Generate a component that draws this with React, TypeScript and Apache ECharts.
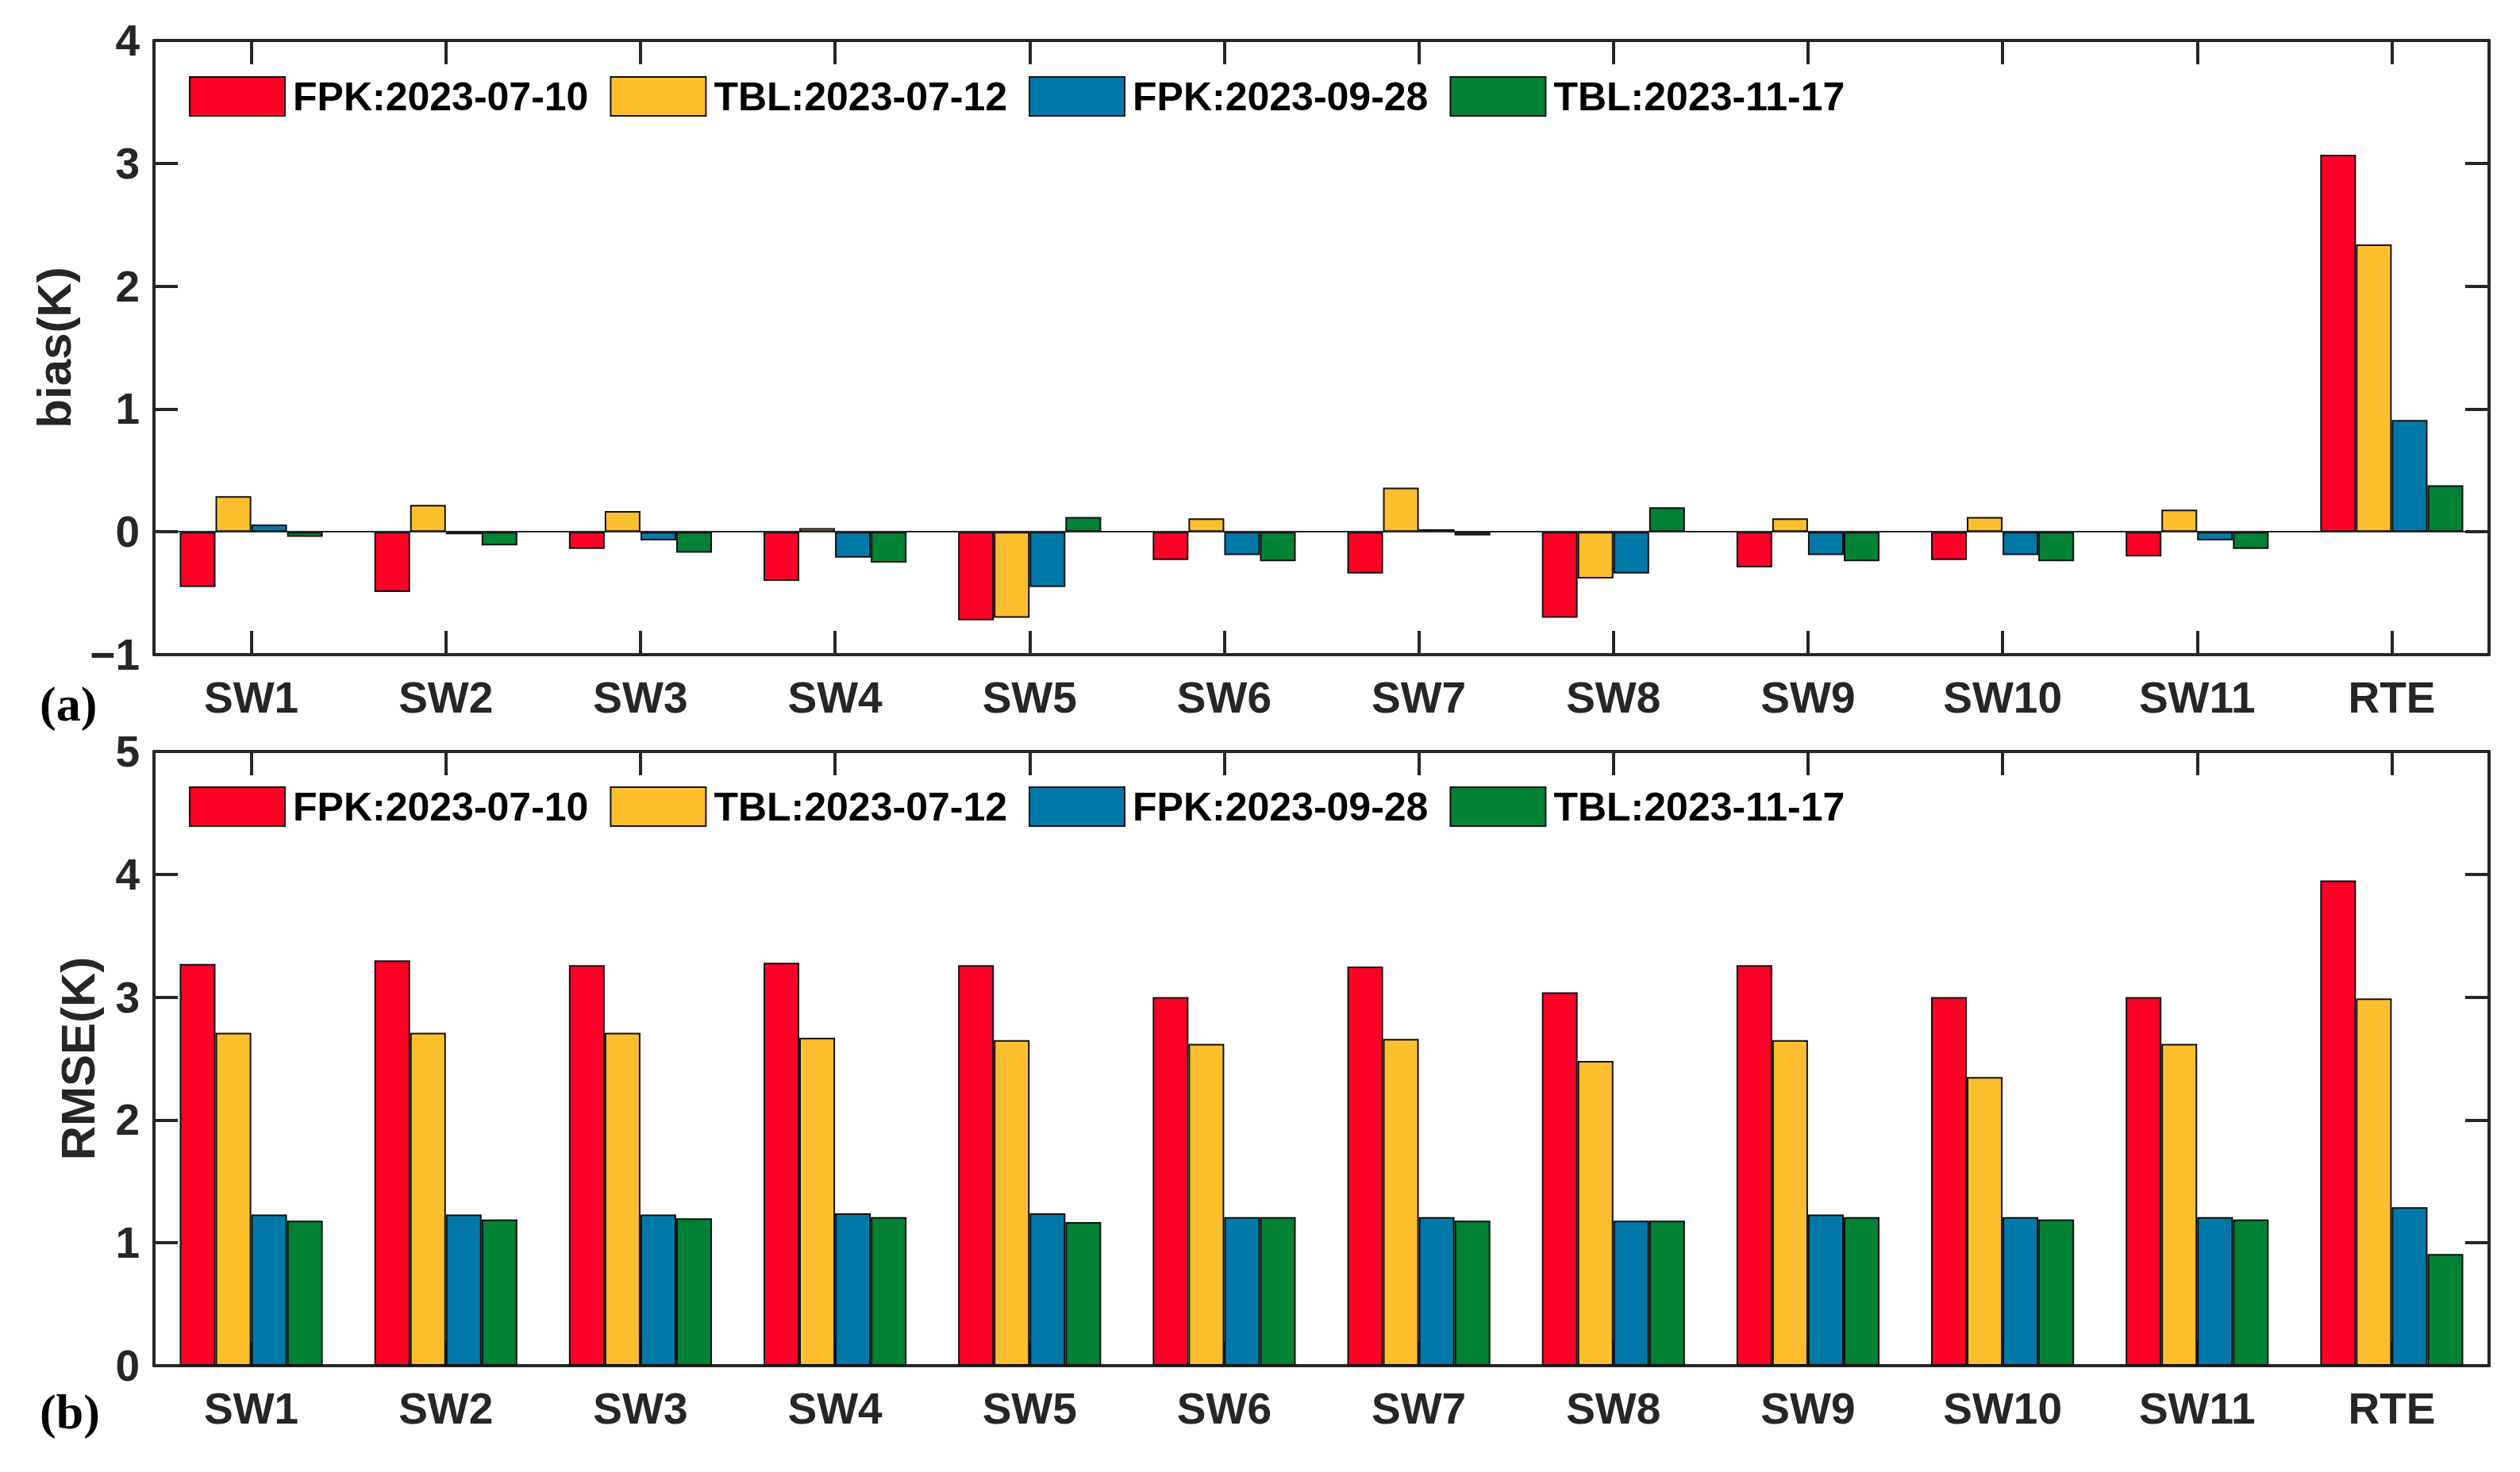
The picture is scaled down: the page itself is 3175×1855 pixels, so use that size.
import React, { useEffect, useRef } from "react";
import * as echarts from "echarts";

const categories = ["SW1", "SW2", "SW3", "SW4", "SW5", "SW6", "SW7", "SW8", "SW9", "SW10", "SW11", "RTE"];
const seriesNames = ["FPK:2023-07-10", "TBL:2023-07-12", "FPK:2023-09-28", "TBL:2023-11-17"];
const seriesColors = ["#FF0027", "#FDBF2E", "#0079A8", "#008134"];

const biasFPK0710 = [-0.45, -0.49, -0.14, -0.40, -0.72, -0.23, -0.34, -0.70, -0.29, -0.23, -0.20, 3.07];
const biasTBL0712 = [0.29, 0.22, 0.17, 0.03, -0.70, 0.11, 0.36, -0.38, 0.11, 0.12, 0.18, 2.34];
const biasFPK0928 = [0.06, -0.02, -0.07, -0.21, -0.45, -0.19, 0.02, -0.34, -0.19, -0.19, -0.07, 0.91];
const biasTBL1117 = [-0.04, -0.11, -0.17, -0.25, 0.12, -0.24, -0.03, 0.20, -0.24, -0.24, -0.14, 0.38];

const rmseFPK0710 = [3.27, 3.30, 3.26, 3.28, 3.26, 3.00, 3.25, 3.04, 3.26, 3.00, 3.00, 3.95];
const rmseTBL0712 = [2.71, 2.71, 2.71, 2.67, 2.65, 2.62, 2.66, 2.48, 2.65, 2.35, 2.62, 2.99];
const rmseFPK0928 = [1.23, 1.23, 1.23, 1.24, 1.24, 1.21, 1.21, 1.18, 1.23, 1.21, 1.21, 1.29];
const rmseTBL1117 = [1.18, 1.19, 1.20, 1.21, 1.17, 1.21, 1.18, 1.18, 1.21, 1.19, 1.19, 0.91];

const biasAxis = { min: -1, max: 4, interval: 1, name: "bias(K)" };
const rmseAxis = { min: 0, max: 5, interval: 1, name: "RMSE(K)" };
const panelLabels = ["(a)", "(b)"];

const FONT = "'Liberation Sans', Arial, Helvetica, sans-serif";
const AXIS_COLOR = "#262626";

export default function App() {
  const ref = useRef<HTMLDivElement>(null);

  useEffect(() => {
    document.body.style.margin = "0";
    const chart = echarts.init(ref.current!, null, { renderer: "svg" });

    const grids = [
      { left: 194, right: 39, top: 51, bottom: 1855 - 825 },
      { left: 194, right: 39, top: 947, bottom: 1855 - 1721 },
    ];

    const lineStyle = { color: AXIS_COLOR, width: 4 };

    const xAxes: any[] = [];
    const yAxes: any[] = [];
    [0, 1].forEach((g) => {
      xAxes.push({
        type: "category",
        gridIndex: g,
        data: categories,
        position: "bottom",
        boundaryGap: true,
        axisLine: { show: true, onZero: false, lineStyle },
        axisTick: { show: true, inside: true, alignWithLabel: true, length: 30, lineStyle: { color: AXIS_COLOR, width: 4 } },
        axisLabel: { show: true, margin: 26, fontSize: 55, fontWeight: "bold", color: AXIS_COLOR, fontFamily: FONT },
        splitLine: { show: false },
        z: 1,
      });
      xAxes.push({
        type: "category",
        gridIndex: g,
        data: categories,
        position: "top",
        boundaryGap: true,
        axisLine: { show: true, onZero: false, lineStyle },
        axisTick: { show: true, inside: true, alignWithLabel: true, length: 30, lineStyle: { color: AXIS_COLOR, width: 4 } },
        axisLabel: { show: false },
        splitLine: { show: false },
        z: 1,
      });
      const ax = g === 0 ? biasAxis : rmseAxis;
      yAxes.push({
        type: "value",
        gridIndex: g,
        position: "left",
        min: ax.min,
        max: ax.max,
        interval: ax.interval,
        name: ax.name,
        nameLocation: "middle",
        nameGap: g === 0 ? 96 : 66,
        nameTextStyle: { fontSize: 60, fontWeight: "bold", color: AXIS_COLOR, fontFamily: FONT },
        axisLine: { show: true, onZero: false, lineStyle },
        axisTick: { show: true, inside: true, length: 30, lineStyle: { color: AXIS_COLOR, width: 4 } },
        axisLabel: {
          show: true,
          margin: 18,
          fontSize: 55,
          fontWeight: "bold",
          color: AXIS_COLOR,
          fontFamily: FONT,
          formatter: (v: number) => String(v).replace("-", "\u2212"),
        },
        splitLine: { show: false },
        z: 1,
      });
      yAxes.push({
        type: "value",
        gridIndex: g,
        position: "right",
        min: ax.min,
        max: ax.max,
        interval: ax.interval,
        axisLine: { show: true, onZero: false, lineStyle },
        axisTick: { show: true, inside: true, length: 30, lineStyle: { color: AXIS_COLOR, width: 4 } },
        axisLabel: { show: false },
        splitLine: { show: false },
        z: 1,
      });
    });

    const biasData = [biasFPK0710, biasTBL0712, biasFPK0928, biasTBL1117];
    const rmseData = [rmseFPK0710, rmseTBL0712, rmseFPK0928, rmseTBL1117];

    const series: any[] = [];
    [biasData, rmseData].forEach((set, g) => {
      set.forEach((vals, i) => {
        const s: any = {
          type: "bar",
          name: seriesNames[i],
          xAxisIndex: g * 2,
          yAxisIndex: g * 2,
          data: vals,
          barGap: "0%",
          barCategoryGap: "26.5%",
          itemStyle: { color: seriesColors[i], borderColor: "#111", borderWidth: 2 },
          emphasis: { disabled: true },
        };
        if (g === 0 && i === 0) {
          s.markLine = {
            silent: true,
            symbol: ["none", "none"],
            label: { show: false },
            lineStyle: { color: AXIS_COLOR, width: 2, type: "solid" },
            data: [{ yAxis: 0 }],
          };
        }
        series.push(s);
      });
    });

    const legendBase = {
      left: 238,
      orient: "horizontal",
      itemWidth: 120,
      itemHeight: 49,
      itemGap: 27,
      padding: 0,
      icon: "rect",
      selectedMode: false,
      data: seriesNames,
      textStyle: { fontSize: 50, fontWeight: "bold", color: "#000", fontFamily: FONT, padding: [0, 0, 0, 5] },
    };

    chart.setOption({
      animation: false,
      backgroundColor: "#fff",
      grid: grids,
      xAxis: xAxes,
      yAxis: yAxes,
      legend: [
        { ...legendBase, top: 96 },
        { ...legendBase, top: 991 },
      ],
      graphic: [
        {
          type: "text",
          left: 50,
          top: 856,
          style: { text: panelLabels[0], font: "bold 62px 'Liberation Serif', 'Times New Roman', serif", fill: "#000" },
        },
        {
          type: "text",
          left: 50,
          top: 1748,
          style: { text: panelLabels[1], font: "bold 62px 'Liberation Serif', 'Times New Roman', serif", fill: "#000" },
        },
      ],
      series,
    });

    return () => chart.dispose();
  }, []);

  return <div ref={ref} style={{ width: 3175, height: 1855 }} />;
}
